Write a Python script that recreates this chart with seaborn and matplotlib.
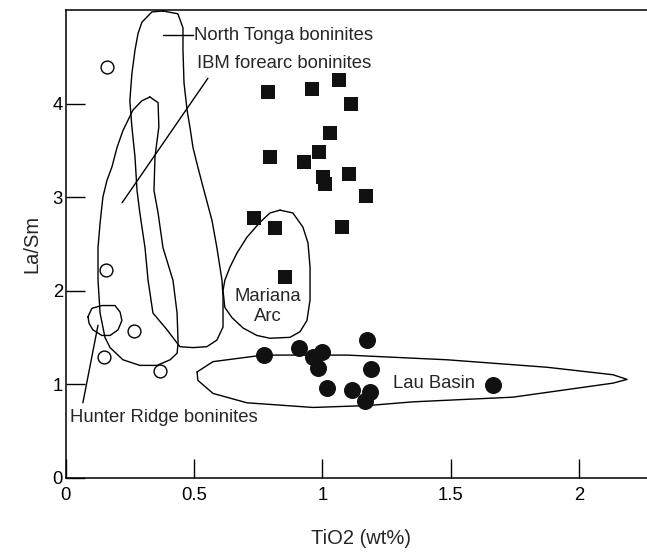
import numpy as np
import pandas as pd
import matplotlib
matplotlib.use('Agg')
import matplotlib.pyplot as plt
import seaborn as sns

# Lau Basin samples (filled circles)
lau_tio2 = [0.773, 0.909, 0.964, 0.999, 0.983, 1.174, 1.189, 1.018, 1.115, 1.185, 1.166, 1.665]
lau_lasm = [1.31, 1.39, 1.29, 1.34, 1.17, 1.47, 1.16, 0.96, 0.94, 0.92, 0.82, 0.99]

# filled squares
sq_tio2 = [0.788, 0.959, 1.065, 1.112, 1.030, 0.796, 0.928, 0.987, 1.002, 1.010,
           1.104, 1.170, 0.734, 0.815, 1.076, 0.854]
sq_lasm = [4.12, 4.16, 4.25, 3.99, 3.68, 3.43, 3.38, 3.48, 3.21, 3.14,
           3.25, 3.01, 2.78, 2.67, 2.68, 2.15]

# open circles
open_tio2 = [0.161, 0.157, 0.266, 0.149, 0.367]
open_lasm = [4.39, 2.22, 1.57, 1.29, 1.14]

# field outlines (TiO2, La/Sm)
tonga_field = [(0.379, 4.99), (0.437, 4.96), (0.457, 4.81), (0.457, 4.57), (0.461, 4.22),
               (0.473, 3.93), (0.484, 3.75), (0.496, 3.53), (0.515, 3.32), (0.535, 3.11),
               (0.570, 2.75), (0.589, 2.46), (0.609, 2.11), (0.613, 1.93), (0.613, 1.61),
               (0.589, 1.47), (0.550, 1.40), (0.496, 1.39), (0.445, 1.40), (0.395, 1.58),
               (0.340, 1.76), (0.321, 2.11), (0.309, 2.46), (0.289, 2.83), (0.278, 3.07),
               (0.270, 3.43), (0.258, 3.75), (0.250, 4.03), (0.258, 4.32), (0.270, 4.57),
               (0.282, 4.75), (0.297, 4.87), (0.336, 4.98), (0.379, 4.99)]
ibm_field = [(0.328, 4.07), (0.360, 4.01), (0.363, 3.75), (0.348, 3.43), (0.344, 3.07),
             (0.360, 2.83), (0.379, 2.46), (0.418, 2.11), (0.434, 1.76), (0.438, 1.44),
             (0.434, 1.33), (0.407, 1.26), (0.356, 1.20), (0.289, 1.20), (0.223, 1.26),
             (0.173, 1.39), (0.153, 1.50), (0.134, 1.76), (0.126, 2.11), (0.126, 2.46),
             (0.134, 2.72), (0.145, 3.00), (0.161, 3.18), (0.180, 3.32), (0.200, 3.53),
             (0.223, 3.71), (0.262, 3.93), (0.297, 4.03), (0.328, 4.07)]
hunter_field = [(0.087, 1.72), (0.102, 1.81), (0.141, 1.84), (0.192, 1.84), (0.212, 1.77),
                (0.219, 1.68), (0.204, 1.58), (0.173, 1.52), (0.141, 1.52), (0.106, 1.58),
                (0.091, 1.65), (0.087, 1.72)]
mariana_field = [(0.835, 2.86), (0.885, 2.83), (0.924, 2.68), (0.944, 2.51), (0.952, 2.25),
                 (0.952, 1.90), (0.940, 1.68), (0.913, 1.56), (0.874, 1.50), (0.796, 1.49),
                 (0.745, 1.52), (0.691, 1.60), (0.648, 1.71), (0.620, 1.82), (0.613, 2.00),
                 (0.620, 2.11), (0.640, 2.25), (0.667, 2.40), (0.706, 2.57), (0.757, 2.73),
                 (0.796, 2.83), (0.835, 2.86)]
lau_field = [(0.512, 1.13), (0.574, 1.24), (0.769, 1.31), (1.096, 1.31), (1.485, 1.26),
             (1.875, 1.18), (2.132, 1.10), (2.187, 1.05), (2.132, 1.01), (1.742, 0.86),
             (1.353, 0.81), (1.174, 0.77), (0.963, 0.75), (0.706, 0.80), (0.574, 0.90),
             (0.515, 1.04), (0.512, 1.13)]

# leader lines for the field labels
tonga_leader = [(0.379, 4.73), (0.496, 4.73)]
ibm_leader = [(0.220, 2.94), (0.554, 4.27)]
hunter_leader = [(0.126, 1.63), (0.067, 0.80)]

sns.set_style('ticks')
plt.rcParams['font.family'] = ['Liberation Sans', 'DejaVu Sans']

fig = plt.figure(figsize=(6.47, 5.52), dpi=100)
ax = fig.add_axes([0.1015, 0.1348, 0.9125, 0.847])

for field in [tonga_field, ibm_field, hunter_field, mariana_field, lau_field]:
    pts = np.array(field)
    ax.plot(pts[:, 0], pts[:, 1], color='black', lw=1.0, zorder=2)

for leader in [tonga_leader, ibm_leader, hunter_leader]:
    pts = np.array(leader)
    ax.plot(pts[:, 0], pts[:, 1], color='black', lw=1.0, zorder=2)

sq = pd.DataFrame({'TiO2': sq_tio2, 'La/Sm': sq_lasm})
lau = pd.DataFrame({'TiO2': lau_tio2, 'La/Sm': lau_lasm})
opn = pd.DataFrame({'TiO2': open_tio2, 'La/Sm': open_lasm})

sns.scatterplot(data=sq, x='TiO2', y='La/Sm', marker='s', s=88, color='#111111',
                linewidth=0, ax=ax, zorder=3)
sns.scatterplot(data=lau, x='TiO2', y='La/Sm', marker='o', s=150, color='#111111',
                linewidth=0, ax=ax, zorder=3)
sns.scatterplot(data=opn, x='TiO2', y='La/Sm', marker='o', s=85, facecolor='white',
                edgecolor='black', linewidth=1.0, ax=ax, zorder=3)

fs = 13.3
ax.text(0.50, 4.73, 'North Tonga boninites', fontsize=fs, ha='left', va='center')
ax.text(0.512, 4.43, 'IBM forearc boninites', fontsize=fs, ha='left', va='center')
ax.text(0.017, 0.646, 'Hunter Ridge boninites', fontsize=fs, ha='left', va='center')
ax.text(0.789, 1.83, 'Mariana\nArc', fontsize=fs, ha='center', va='center',
        multialignment='center', linespacing=1.25)
ax.text(1.275, 1.01, 'Lau Basin', fontsize=fs, ha='left', va='center')

ax.set_xlim(0, 2.3)
ax.set_ylim(0, 5)
ax.set_xticks([0, 0.5, 1, 1.5, 2])
ax.set_xticklabels(['0', '0.5', '1', '1.5', '2'])
ax.set_yticks([0, 1, 2, 3, 4])
ax.tick_params(direction='in', length=13.5, width=1.0, labelsize=fs, colors='black')
ax.tick_params(axis='x', pad=7)
ax.tick_params(axis='y', pad=2)
for sp in ax.spines.values():
    sp.set_linewidth(1.1)
    sp.set_color('black')

ax.set_xlabel('TiO2 (wt%)', fontsize=14.5, labelpad=18)
ax.set_ylabel('La/Sm', fontsize=14.5, labelpad=8)

fig.savefig('out.png', dpi=100)
